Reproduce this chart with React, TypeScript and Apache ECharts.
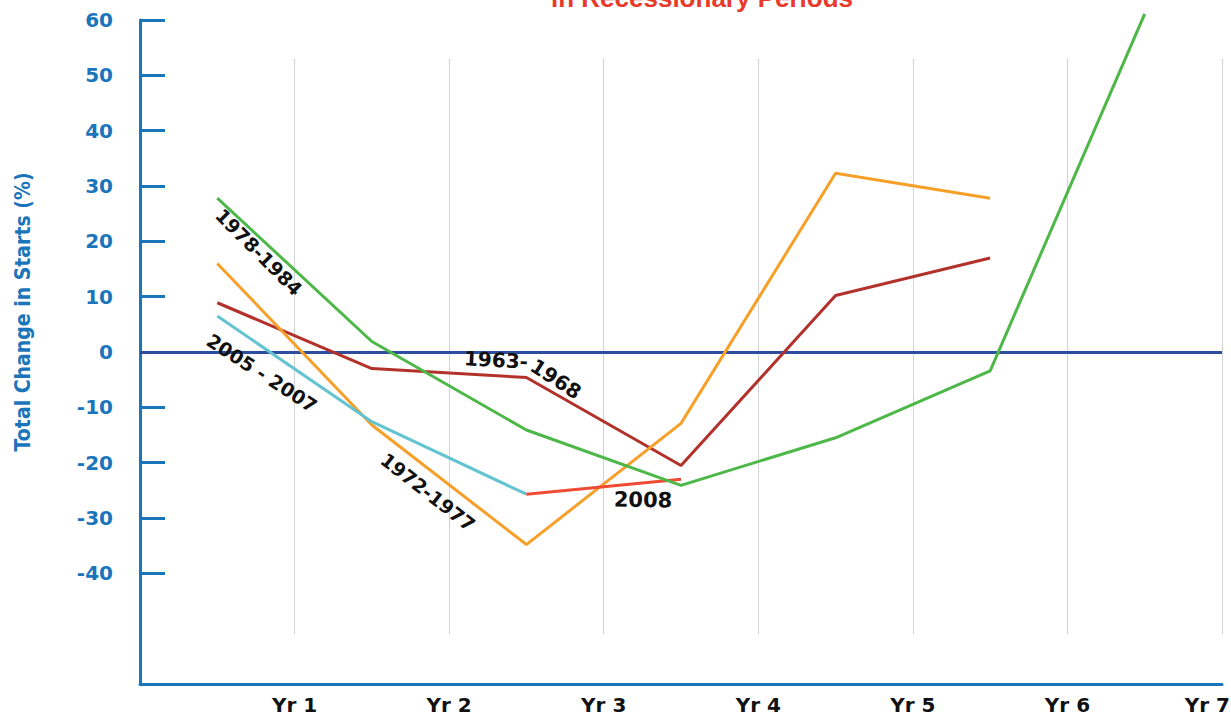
import React, { useEffect, useRef } from "react";
import * as echarts from "echarts";

const YEAR_TICKS = [1, 2, 3, 4, 5, 6, 7];
const POINT_X = [0.5, 1.5, 2.5, 3.5, 4.5, 5.5, 6.5];
const Y_LABELS = [-40, -30, -20, -10, 0, 10, 20, 30, 40, 50, 60];

const s1963 = [8.9, -3.0, -4.6, -20.5, 10.2, 17.0];
const s1972 = [16.0, -13.2, -34.8, -12.9, 32.3, 27.8];
const s1978 = [27.8, 1.9, -14.1, -24.1, -15.5, -3.4, 61.1];
const s2005 = [6.5, -12.6, -25.7];
const s2008 = [null, null, -25.7, -23.0];

const toPairs = (vals: (number | null)[]) =>
  vals.map((v, i) => [POINT_X[i], v]).filter((p) => p[1] !== null);

const BLUE = "#1b75bb";
const FONT = "'DejaVu Sans', 'Liberation Sans', sans-serif";
const LAST_YEAR = YEAR_TICKS[YEAR_TICKS.length - 1];

export default function App() {
  const ref = useRef<HTMLDivElement>(null);
  useEffect(() => {
    if (!ref.current) return;
    const chart = echarts.init(ref.current, null, { renderer: "svg" });
    const deg = (d: number) => (d * Math.PI) / 180;
    const annot = (text: string, x: number, y: number, angle: number, size = 19) => ({
      type: "text",
      x,
      y,
      rotation: deg(angle),
      z: 100,
      style: {
        text,
        fill: "#111",
        font: `bold ${size}px ${FONT}`,
        textAlign: "center",
        textVerticalAlign: "middle",
      },
    });
    const line = (name: string, data: any[], color: string) => ({
      name,
      type: "line",
      data,
      symbol: "none",
      clip: false,
      lineStyle: { color, width: 3 },
      z: 5,
    });
    chart.setOption({
      animation: false,
      backgroundColor: "#ffffff",
      grid: { left: 140, right: 9, top: 20, bottom: 33, outerBoundsMode: "none", containLabel: false },
      xAxis: {
        type: "value",
        min: 0,
        max: 7,
        interval: 1,
        axisLine: { show: true, onZero: false, lineStyle: { color: BLUE, width: 3 } },
        axisTick: { show: false },
        splitLine: { show: false },
        axisLabel: {
          margin: 11,
          color: "#111",
          fontWeight: "bold",
          fontSize: 20,
          fontFamily: FONT,
          formatter: (v: number) =>
            YEAR_TICKS.includes(v) && v !== LAST_YEAR ? "Yr " + v : "",
        },
      },
      yAxis: {
        type: "value",
        min: -60,
        max: 60,
        interval: 10,
        axisLine: { show: true, onZero: false, lineStyle: { color: BLUE, width: 3 } },
        axisTick: {
          show: true,
          inside: true,
          length: 25,
          lineStyle: { color: BLUE, width: 3 },
          customValues: Y_LABELS,
        },
        splitLine: { show: false },
        axisLabel: {
          margin: 27,
          color: BLUE,
          fontWeight: "bold",
          fontSize: 20,
          fontFamily: FONT,
          customValues: Y_LABELS,
          formatter: (v: number) => (Y_LABELS.includes(v) ? String(v) : ""),
        },
      },
      graphic: [
        {
          type: "text",
          x: 702,
          y: -2,
          style: {
            text: "in Recessionary Periods",
            fill: "#e8392b",
            font: "bold 26px 'Liberation Sans', Arial, sans-serif",
            textAlign: "center",
            textVerticalAlign: "middle",
          },
        },
        {
          type: "text",
          x: 1230,
          y: 705,
          style: {
            text: "Yr " + LAST_YEAR,
            fill: "#111",
            font: `bold 20px ${FONT}`,
            textAlign: "right",
            textVerticalAlign: "middle",
          },
        },
        {
          type: "text",
          x: 22,
          y: 312,
          rotation: deg(90),
          scaleX: 0.86,
          style: {
            text: "Total Change in Starts (%)",
            fill: BLUE,
            font: `bold 22px ${FONT}`,
            textAlign: "center",
            textVerticalAlign: "middle",
          },
        },
        annot("1978-1984", 259, 252, -45),
        annot("2005 - 2007", 262, 373, -33),
        annot("1963-", 496, 360, -3, 20),
        annot("1968", 556, 379, -33, 20),
        annot("1972-1977", 428, 492, -38),
        annot("2008", 643, 500, -1, 21),
      ],
      series: [
        {
          type: "line",
          data: [],
          silent: true,
          z: 1,
          markLine: {
            silent: true,
            symbol: "none",
            label: { show: false },
            lineStyle: { color: "#d2d2d2", width: 1, type: "solid" },
            data: YEAR_TICKS.map((x) => [
              { coord: [x, 53] },
              { coord: [x, -51] },
            ]),
          },
        },
        {
          type: "line",
          data: [],
          silent: true,
          z: 2,
          markLine: {
            silent: true,
            symbol: "none",
            label: { show: false },
            lineStyle: { color: "#2d4e9e", width: 3, type: "solid" },
            data: [{ yAxis: 0 }],
          },
        },
        line("1963-1968", toPairs(s1963), "#b2322b"),
        line("1972-1977", toPairs(s1972), "#f6a02a"),
        line("2005-2007", toPairs(s2005), "#63c3d0"),
        line("2008", toPairs(s2008), "#ef4a34"),
        line("1978-1984", toPairs(s1978), "#4db848"),
      ],
    });
    return () => chart.dispose();
  }, []);
  return (
    <div
      ref={ref}
      style={{ position: "fixed", left: 0, top: 0, width: 1231, height: 717, background: "#fff" }}
    />
  );
}
